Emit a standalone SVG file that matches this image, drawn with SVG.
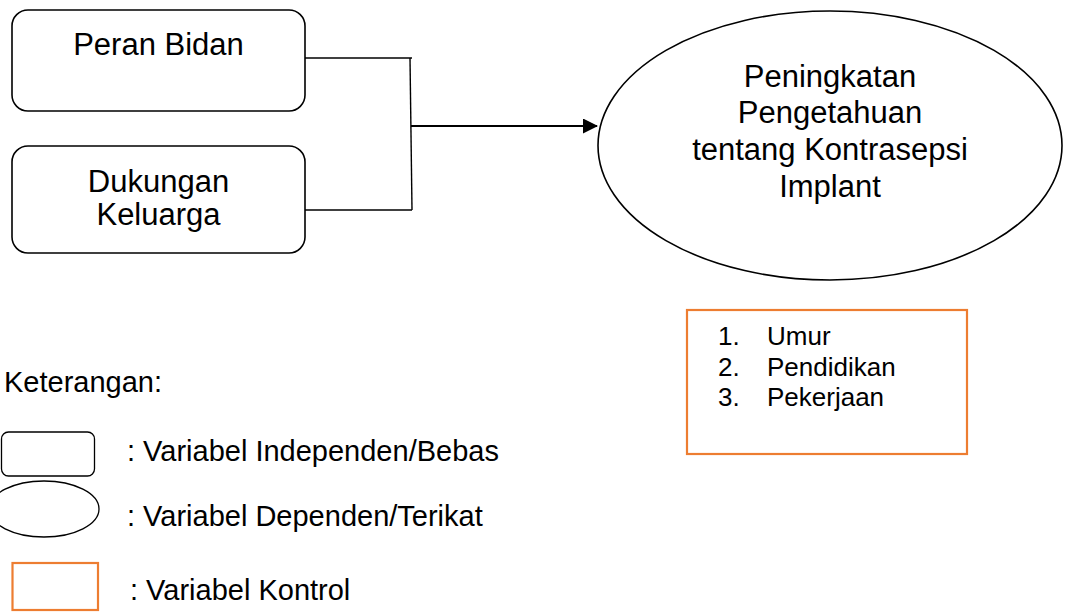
<svg xmlns="http://www.w3.org/2000/svg" width="1066" height="612" viewBox="0 0 1066 612">
  <style>
    text { font-family: "Liberation Sans", Arial, sans-serif; fill: #000; }
    .node { fill: #fff; stroke: #000; stroke-width: 1.6; }
    .ctrl { fill: #fff; stroke: #ED7D31; stroke-width: 2.2; }
    .wire { fill: none; stroke: #000; stroke-width: 1.4; }
    .main { font-size: 31px; text-anchor: middle; }
    .list { font-size: 26px; }
    .legend { font-size: 29px; }
  </style>
  <defs>
    <marker id="arrow" markerWidth="15" markerHeight="15" refX="14" refY="7.5" orient="auto" markerUnits="userSpaceOnUse" viewBox="0 0 15 15">
      <path d="M0,0 L15,7.5 L0,15 Z" fill="#000"/>
    </marker>
  </defs>
  <rect width="1066" height="612" fill="#fff"/>

  <!-- Independent variables -->
  <g id="peran-bidan">
    <rect class="node" x="12" y="10" width="293" height="101" rx="16"/>
    <text class="main" x="158.5" y="55">Peran Bidan</text>
  </g>
  <g id="dukungan-keluarga">
    <rect class="node" x="12" y="146" width="293" height="107" rx="16"/>
    <text class="main" x="158.5" y="192">Dukungan</text>
    <text class="main" x="158.5" y="224.5">Keluarga</text>
  </g>

  <!-- Dependent variable -->
  <g id="pengetahuan">
    <ellipse class="node" cx="830" cy="145.5" rx="232" ry="134.5"/>
    <text class="main" x="830" y="87">Peningkatan</text>
    <text class="main" x="830" y="123">Pengetahuan</text>
    <text class="main" x="830" y="159.5">tentang Kontrasepsi</text>
    <text class="main" x="830" y="196.5">Implant</text>
  </g>

  <!-- Control variables -->
  <g id="kontrol">
    <rect class="ctrl" x="687" y="310" width="280" height="144"/>
    <text class="list" x="718" y="345">1.</text>
    <text class="list" x="767" y="345">Umur</text>
    <text class="list" x="718" y="375.5">2.</text>
    <text class="list" x="767" y="375.5">Pendidikan</text>
    <text class="list" x="718" y="406">3.</text>
    <text class="list" x="767" y="406">Pekerjaan</text>
  </g>

  <!-- Connectors -->
  <g id="connectors">
    <path class="wire" d="M305,58 H412"/>
    <path class="wire" d="M305,210 H412"/>
    <path class="wire" d="M410,58 L412,210"/>
    <path class="wire" d="M411,126 H597" style="stroke-width:2.2" marker-end="url(#arrow)"/>
  </g>

  <!-- Legend -->
  <g id="legend">
    <text class="legend" x="4" y="392">Keterangan:</text>
    <rect class="node" x="1.5" y="432" width="93" height="44" rx="7" style="stroke-width:1.3"/>
    <text class="legend" x="127" y="461">: Variabel Independen/Bebas</text>
    <ellipse class="node" cx="44" cy="509" rx="55" ry="28" style="stroke-width:1.3"/>
    <text class="legend" x="127" y="526">: Variabel Dependen/Terikat</text>
    <rect class="ctrl" x="12.5" y="563" width="85.5" height="47"/>
    <text class="legend" x="130" y="600">: Variabel Kontrol</text>
  </g>
</svg>
